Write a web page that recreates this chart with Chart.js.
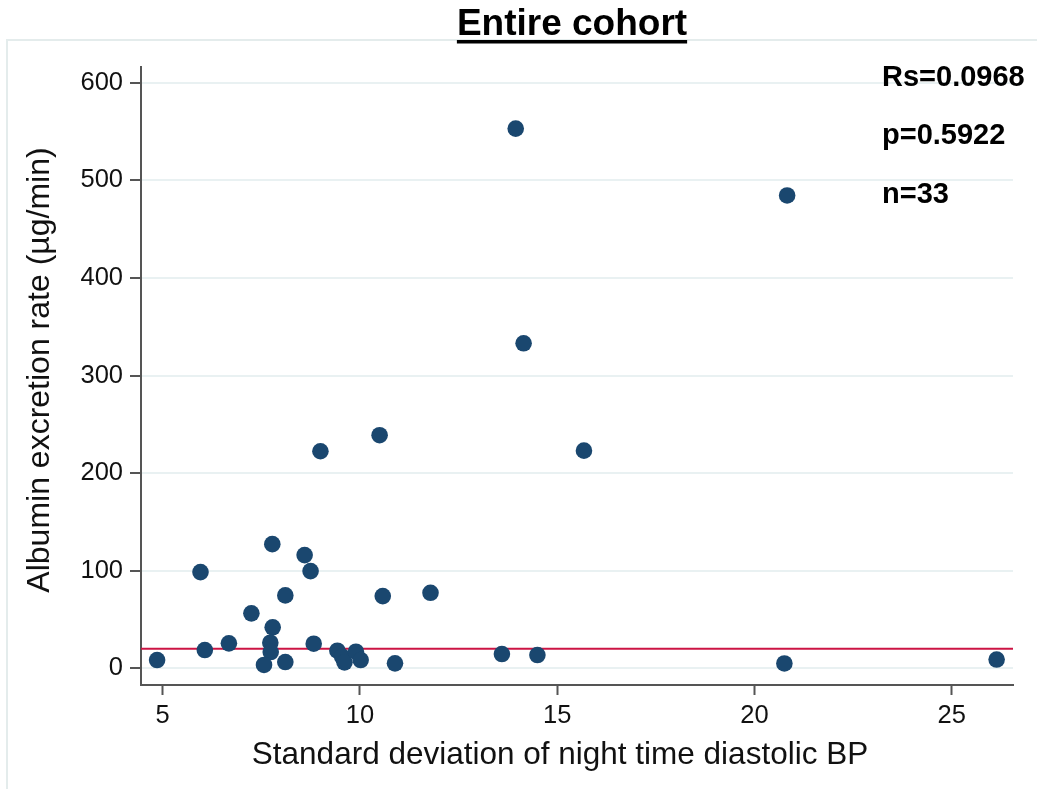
<!DOCTYPE html>
<html>
<head>
<meta charset="utf-8">
<script src="https://cdn.jsdelivr.net/npm/chart.js@4.4.1/dist/chart.umd.min.js"></script>
<style>
  body { margin: 0; background: #fff; }
  canvas { display: block; }
</style>
</head>
<body>
<canvas id="c" width="1037" height="789"></canvas>
<script>
// data
var sdNightDia = [4.86, 5.96, 6.07, 6.68, 7.25, 7.78, 7.79, 7.73, 7.74, 7.57, 8.11, 8.11, 8.60, 8.75, 8.83,
	9.43, 9.55, 9.61, 9.90, 10.02, 10.58, 10.89, 11.79, 9.00, 10.50, 13.95, 14.15, 15.68, 20.83,
	13.60, 14.50, 20.76, 26.14];
var aer = [8.5, 98.6, 18.7, 25.6, 56.3, 127.2, 42, 26.2, 16.7, 3.4, 6.4, 74.7, 116, 99.6, 25.2,
	18, 12, 6.1, 17, 8.5, 74, 5.1, 77.4, 222.4, 238.8, 553, 333, 223, 484.5,
	14.6, 13.6, 5, 9];
var refLevel = 20;
var xTicks = [5, 10, 15, 20, 25];
var yTicks = [0, 100, 200, 300, 400, 500, 600];
var xRange = [4.452, 26.555];
var yRange = [-17.1, 616.1];
var statLines = ['Rs=0.0968', 'p=0.5922', 'n=33'];

var FONT = '"Liberation Sans", Arial, sans-serif';

var points = [];
for (let i = 0; i < sdNightDia.length; i++) {
	points.push({ x: sdNightDia[i], y: aer[i] });
}

var decor = {
	id: 'decor',
	beforeDraw(chart) {
		var c = chart.ctx;
		c.save();
		c.strokeStyle = '#e4ecec';
		c.lineWidth = 2;
		c.strokeRect(7, 40, 1100, 1000);
		c.restore();
	},
	afterDraw(chart) {
		var c = chart.ctx;
		c.save();
		c.fillStyle = '#000';
		// title
		c.font = 'bold 37px ' + FONT;
		c.textAlign = 'center';
		c.textBaseline = 'alphabetic';
		c.fillText('Entire cohort', 572, 35);
		var w = c.measureText('Entire cohort').width;
		c.fillRect(572 - w / 2, 40, w, 3.5);
		// stats
		c.font = 'bold 29px ' + FONT;
		c.textAlign = 'left';
		c.textBaseline = 'middle';
		var ys = [78, 136, 195];
		statLines.forEach(function (t, i) { c.fillText(t, 882, ys[i]); });
		// axis titles
		c.fillStyle = '#111';
		c.font = '31.5px ' + FONT;
		c.textAlign = 'center';
		c.fillText('Standard deviation of night time diastolic BP', 560, 755);
		c.font = '32px ' + FONT;
		c.translate(40, 370);
		c.rotate(-Math.PI / 2);
		c.fillText('Albumin excretion rate (\u00b5g/min)', 0, 0);
		c.restore();
	}
};

var ctx = document.getElementById('c').getContext('2d');
var chart = new Chart(ctx, {
	type: 'scatter',
	data: {
		datasets: [{
			type: 'scatter',
			data: points,
			backgroundColor: '#1a476f',
			borderColor: '#1a476f',
			borderWidth: 0,
			pointRadius: 8.3,
			order: 1,
		}, {
			type: 'line',
			data: [{ x: xRange[0], y: refLevel }, { x: xRange[1], y: refLevel }],
			borderColor: '#cc1444',
			borderWidth: 2,
			pointRadius: 0,
			fill: false,
			order: 2,
		}]
	},
	options: {
		responsive: false,
		animation: false,
		layout: { padding: { top: 67, right: 24, left: 0, bottom: 0 } },
		plugins: { legend: { display: false }, tooltip: { enabled: false } },
		scales: {
			x: {
				type: 'linear',
				min: xRange[0],
				max: xRange[1],
				afterBuildTicks: function (s) { s.ticks = xTicks.map(function (v) { return { value: v }; }); },
				afterFit: function (s) { s.height = 104; },
				grid: { drawOnChartArea: false, tickLength: 10, tickColor: '#555', tickWidth: 2 },
				border: { color: '#555', width: 2 },
				ticks: { color: '#111', padding: 6, font: { family: FONT, size: 25.5 } },
			},
			y: {
				type: 'linear',
				min: yRange[0],
				max: yRange[1],
				afterBuildTicks: function (s) { s.ticks = yTicks.map(function (v) { return { value: v }; }); },
				afterFit: function (s) { s.width = 141; },
				grid: { color: '#e9f1f2', lineWidth: 2, tickLength: 11, tickColor: '#555', tickWidth: 2 },
				border: { color: '#555', width: 2 },
				ticks: { color: '#111', padding: 7, font: { family: FONT, size: 25.5 } },
			}
		}
	},
	plugins: [decor]
});
</script>
</body>
</html>
